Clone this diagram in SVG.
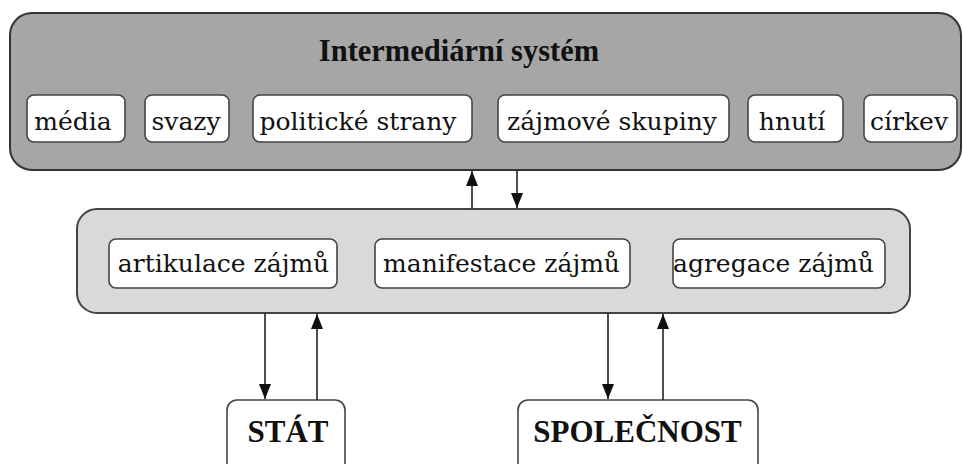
<svg xmlns="http://www.w3.org/2000/svg" width="963" height="464" viewBox="0 0 963 464">
  <defs>
    <style>
      .outer { fill: #a6a6a6; stroke: #333; stroke-width: 2; }
      .mid { fill: #d9d9d9; stroke: #444; stroke-width: 2; }
      .box { fill: #ffffff; stroke: #444; stroke-width: 1.6; }
      .t { font-family: "DejaVu Serif", serif; font-size: 25px; fill: #111; text-anchor: middle; }
      .b { font-family: "Liberation Serif", "Times New Roman", serif; font-size: 31px; font-weight: bold; }
      .conn { stroke: #222; stroke-width: 1.6; fill: none; }
    </style>
    <marker id="ah" viewBox="0 0 15 12" refX="15" refY="6" markerWidth="15" markerHeight="12" markerUnits="userSpaceOnUse" orient="auto">
      <path d="M0,0 L15,6 L0,12 Z" fill="#111"/>
    </marker>
  </defs>

  <g id="intermediarni-system">
    <rect class="outer" x="10" y="13" width="951" height="157" rx="22" ry="22"/>
    <text class="t b" x="459" y="61" style="font-size:30.5px">Intermediární systém</text>
  </g>
  <g id="media">
    <rect class="box" x="27" y="95" width="98" height="47" rx="7"/>
    <text class="t" x="73" y="130">média</text>
  </g>
  <g id="svazy">
    <rect class="box" x="145" y="95" width="84" height="47" rx="7"/>
    <text class="t" x="186" y="130">svazy</text>
  </g>
  <g id="politicke-strany">
    <rect class="box" x="253" y="95" width="219" height="47" rx="7"/>
    <text class="t" x="358" y="130">politické strany</text>
  </g>
  <g id="zajmove-skupiny">
    <rect class="box" x="498" y="95" width="231" height="47" rx="7"/>
    <text class="t" x="612" y="130">zájmové skupiny</text>
  </g>
  <g id="hnuti">
    <rect class="box" x="748" y="95" width="95" height="47" rx="7"/>
    <text class="t" x="792" y="130">hnutí</text>
  </g>
  <g id="cirkev">
    <rect class="box" x="864" y="95" width="93" height="47" rx="7"/>
    <text class="t" x="909" y="130">církev</text>
  </g>

  <g id="funkce">
    <rect class="mid" x="77" y="209" width="833" height="104" rx="20" ry="20"/>
  </g>
  <g id="artikulace">
    <rect class="box" x="109" y="239" width="228" height="49" rx="7"/>
    <text class="t" x="223.5" y="272">artikulace zájmů</text>
  </g>
  <g id="manifestace">
    <rect class="box" x="375" y="239" width="255" height="49" rx="7"/>
    <text class="t" x="501.5" y="272">manifestace zájmů</text>
  </g>
  <g id="agregace">
    <rect class="box" x="673" y="239" width="212" height="49" rx="7"/>
    <text class="t" x="773.5" y="272">agregace zájmů</text>
  </g>

  <g id="stat">
    <rect class="box" x="227" y="400" width="118" height="80" rx="10"/>
    <text class="t b" x="288" y="442">STÁT</text>
  </g>
  <g id="spolecnost">
    <rect class="box" x="518" y="400" width="240" height="80" rx="10"/>
    <text class="t b" x="637.5" y="442">SPOLEČNOST</text>
  </g>

  <g id="connectors">
    <line class="conn" x1="472" y1="209" x2="472" y2="171" marker-end="url(#ah)"/>
    <line class="conn" x1="517" y1="170" x2="517" y2="208" marker-end="url(#ah)"/>
    <line class="conn" x1="265" y1="313" x2="265" y2="399" marker-end="url(#ah)"/>
    <line class="conn" x1="317" y1="400" x2="317" y2="314" marker-end="url(#ah)"/>
    <line class="conn" x1="608" y1="313" x2="608" y2="399" marker-end="url(#ah)"/>
    <line class="conn" x1="663" y1="400" x2="663" y2="314" marker-end="url(#ah)"/>
  </g>
</svg>
